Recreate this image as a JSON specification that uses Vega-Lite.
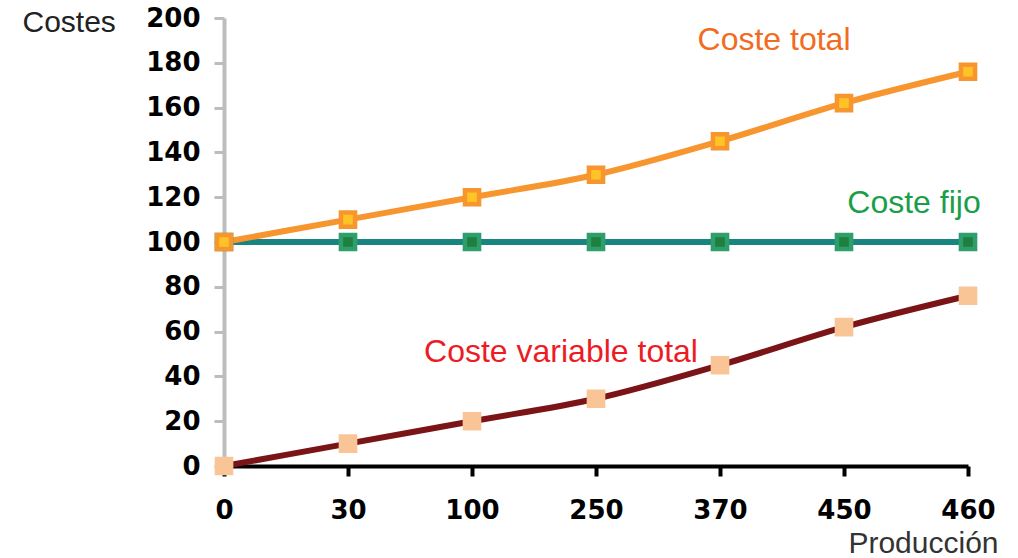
{
  "$schema": "https://vega.github.io/schema/vega-lite/v6.json",
  "width": 744,
  "height": 448,
  "autosize": {"type": "none"},
  "padding": {"left": 224, "top": 18, "right": 50, "bottom": 92},
  "background": "white",
  "config": {"view": {"stroke": null}},
  "data": {
    "values": [
      {"prod": "0", "serie": "variable", "coste": 0},
      {"prod": "30", "serie": "variable", "coste": 10},
      {"prod": "100", "serie": "variable", "coste": 20},
      {"prod": "250", "serie": "variable", "coste": 30},
      {"prod": "370", "serie": "variable", "coste": 45},
      {"prod": "450", "serie": "variable", "coste": 62},
      {"prod": "460", "serie": "variable", "coste": 76},
      {"prod": "0", "serie": "fijo", "coste": 100},
      {"prod": "30", "serie": "fijo", "coste": 100},
      {"prod": "100", "serie": "fijo", "coste": 100},
      {"prod": "250", "serie": "fijo", "coste": 100},
      {"prod": "370", "serie": "fijo", "coste": 100},
      {"prod": "450", "serie": "fijo", "coste": 100},
      {"prod": "460", "serie": "fijo", "coste": 100},
      {"prod": "0", "serie": "total", "coste": 100},
      {"prod": "30", "serie": "total", "coste": 110},
      {"prod": "100", "serie": "total", "coste": 120},
      {"prod": "250", "serie": "total", "coste": 130},
      {"prod": "370", "serie": "total", "coste": 145},
      {"prod": "450", "serie": "total", "coste": 162},
      {"prod": "460", "serie": "total", "coste": 176}
    ]
  },
  "encoding": {
    "x": {
      "field": "prod",
      "type": "ordinal",
      "sort": ["0", "30", "100", "250", "370", "450", "460"],
      "scale": {"type": "point", "padding": 0},
      "axis": {
        "title": "Producción",
        "titleFont": "Liberation Sans",
        "titleFontSize": 30,
        "titleFontWeight": "normal",
        "titleColor": "#333333",
        "titleAlign": "right",
        "titleBaseline": "middle",
        "titleAnchor": null,
        "titleX": 774,
        "titleY": 77,
        "labelAngle": 0,
        "labelFont": "DejaVu Sans",
        "labelFontWeight": "bold",
        "labelFontSize": 26,
        "labelColor": "#000000",
        "labelPadding": 34,
        "labelBaseline": "middle",
        "domainColor": "#000000",
        "domainWidth": 4,
        "tickColor": "#000000",
        "tickWidth": 4,
        "tickSize": 10,
        "grid": false
      }
    },
    "y": {
      "field": "coste",
      "type": "quantitative",
      "scale": {"domain": [0, 200], "nice": false, "zero": true},
      "axis": {
        "values": [0, 20, 40, 60, 80, 100, 120, 140, 160, 180, 200],
        "title": "Costes",
        "titleFont": "Liberation Sans",
        "titleFontSize": 30,
        "titleFontWeight": "normal",
        "titleColor": "#222222",
        "titleAngle": 0,
        "titleAlign": "left",
        "titleBaseline": "middle",
        "titleAnchor": null,
        "titleX": -202,
        "titleY": 4,
        "labelFont": "DejaVu Sans",
        "labelFontWeight": "bold",
        "labelFontSize": 26,
        "labelColor": "#000000",
        "labelPadding": 14,
        "domainColor": "#BDBDBF",
        "domainWidth": 4,
        "tickColor": "#BDBDBF",
        "tickWidth": 3,
        "tickSize": 10,
        "grid": false
      }
    }
  },
  "layer": [
    {
      "mark": {"type": "line", "strokeWidth": 6, "interpolate": "monotone"},
      "encoding": {
        "color": {
          "field": "serie",
          "type": "nominal",
          "scale": {"domain": ["variable", "fijo", "total"], "range": ["#7B1416", "#1A8480", "#F7962F"]},
          "legend": null
        }
      }
    },
    {
      "mark": {"type": "point", "shape": "square", "filled": true, "size": 200, "strokeWidth": 4.5, "opacity": 1},
      "encoding": {
        "fill": {
          "field": "serie",
          "type": "nominal",
          "scale": {"domain": ["variable", "fijo", "total"], "range": ["#FAC596", "#1E7F3E", "#FFC325"]},
          "legend": null
        },
        "stroke": {
          "field": "serie",
          "type": "nominal",
          "scale": {"domain": ["variable", "fijo", "total"], "range": ["#FAC596", "#2E9E6C", "#F7962F"]},
          "legend": null
        }
      }
    },
    {
      "data": {"values": [{"prod": "370", "coste": 190.2, "label": "Coste total"}]},
      "mark": {"type": "text", "font": "Liberation Sans", "fontSize": 32, "color": "#F26B21", "dx": 54, "align": "center", "baseline": "middle"},
      "encoding": {"text": {"field": "label"}}
    },
    {
      "data": {"values": [{"prod": "460", "coste": 117.4, "label": "Coste fijo"}]},
      "mark": {"type": "text", "font": "Liberation Sans", "fontSize": 32, "color": "#1A9E48", "dx": -54, "align": "center", "baseline": "middle"},
      "encoding": {"text": {"field": "label"}}
    },
    {
      "data": {"values": [{"prod": "250", "coste": 50.9, "label": "Coste variable total"}]},
      "mark": {"type": "text", "font": "Liberation Sans", "fontSize": 32, "color": "#ED1C24", "dx": -35, "align": "center", "baseline": "middle"},
      "encoding": {"text": {"field": "label"}}
    }
  ]
}
